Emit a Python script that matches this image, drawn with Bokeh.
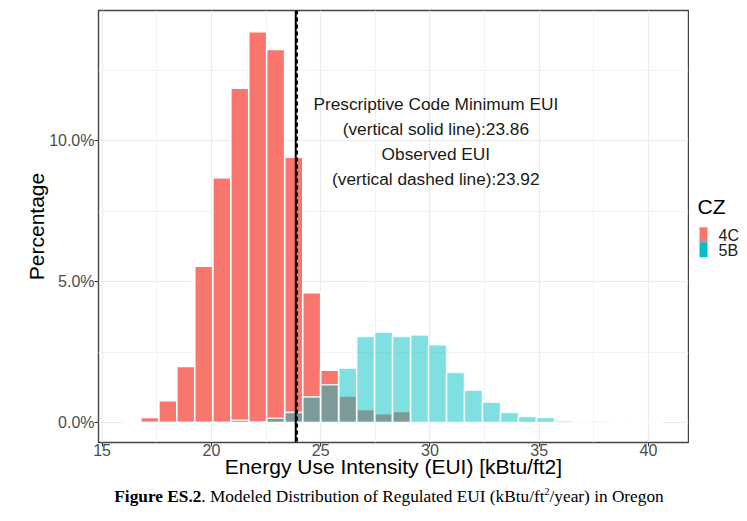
from bokeh.plotting import figure
from bokeh.models import (Span, Label, FixedTicker, Range1d,
                          PrintfTickFormatter, ColumnDataSource, Div)
from bokeh.core.properties import value
from bokeh.layouts import column, row
from bokeh.embed import file_html
from bokeh.resources import INLINE

# ---- data ----
bin_centers = [16.36, 17.18, 18.01, 18.83, 19.65, 20.48, 21.30, 22.12, 22.94, 23.77,
               24.59, 25.41, 26.24, 27.06, 27.88, 28.70, 29.53, 30.35, 31.17, 31.99,
               32.82, 33.64, 34.46, 35.29, 36.11, 36.93, 37.75, 38.58, 39.40, 40.22]
pct_4C = [0.0, 0.18, 0.77, 1.99, 5.55, 8.69, 11.86, 13.87, 13.24, 9.41,
          4.61, 1.86, 0.94, 0.46, 0.31, 0.39, 0.03, 0.02, 0.0, 0.0,
          0.0, 0.0, 0.0, 0.0, 0.0, 0.0, 0.0, 0.0, 0.0, 0.0]
pct_5B = [0.0, 0.0, 0.0, 0.0, 0.0, 0.0, 0.08, 0.02, 0.15, 0.36,
          0.91, 1.34, 1.93, 3.05, 3.20, 3.05, 3.11, 2.76, 1.78, 1.15,
          0.72, 0.36, 0.21, 0.18, 0.06, 0.02, 0.04, 0.0, 0.0, 0.0]
bin_width = 0.8227
code_min_eui = 23.86
observed_eui = 23.92
x_ticks = [15, 20, 25, 30, 35, 40]
y_ticks = [0, 5, 10]
groups = ["4C", "5B"]
legend_title = "CZ"

RED = "#F8766D"
CYAN = "#00BFC4"
SANS = "Liberation Sans"

p = figure(width=689, height=486, output_backend="svg", toolbar_location=None,
           x_range=Range1d(14.835, 41.83), y_range=Range1d(-0.71, 14.62),
           min_border_left=98, min_border_right=1, min_border_top=10, min_border_bottom=44)
p.background_fill_color = "white"
p.border_fill_color = "white"
p.outline_line_color = "#444444"
p.outline_line_width = 1.4

def src(vals):
    return ColumnDataSource(dict(left=[c - bin_width / 2 for c in bin_centers],
                                 right=[c + bin_width / 2 for c in bin_centers],
                                 top=vals, bottom=[0] * len(vals)))

p.quad(left="left", right="right", top="top", bottom="bottom", source=src(pct_4C),
       fill_color=RED, fill_alpha=1.0, line_color="white", line_width=1.6)
p.quad(left="left", right="right", top="top", bottom="bottom", source=src(pct_5B),
       fill_color=CYAN, fill_alpha=0.5, line_color="white", line_alpha=0.8, line_width=1.6)

p.add_layout(Span(location=code_min_eui, dimension="height", line_color="black", line_width=2))
p.add_layout(Span(location=observed_eui, dimension="height", line_color="black", line_width=2,
                  line_dash="4 3"))

ann = ["Prescriptive Code Minimum EUI",
       "(vertical solid line):%.2f" % code_min_eui,
       "Observed EUI",
       "(vertical dashed line):%.2f" % observed_eui]
ann_y = [11.31, 10.42, 9.53, 8.64]
for t, yy in zip(ann, ann_y):
    p.add_layout(Label(x=30.27, y=yy, text=t, text_align="center", text_baseline="middle",
                       text_font=SANS, text_font_size="17.3px", text_color="#1a1a1a"))

# axes
p.xaxis.ticker = FixedTicker(ticks=x_ticks, minor_ticks=[17.5, 22.5, 27.5, 32.5, 37.5])
p.yaxis.ticker = FixedTicker(ticks=y_ticks, minor_ticks=[2.5, 7.5, 12.5])
p.yaxis.formatter = PrintfTickFormatter(format="%.1f%%")
for ax in (p.xaxis, p.yaxis):
    ax.axis_line_color = None
    ax.major_tick_line_color = "#333333"
    ax.major_tick_out = 4
    ax.major_tick_in = 0
    ax.minor_tick_line_color = None
    ax.major_label_text_font = SANS
    ax.major_label_text_font_size = "16px"
    ax.major_label_text_color = "#4D4D4D"
    ax.axis_label_text_font = SANS
    ax.axis_label_text_font_size = "21px"
    ax.axis_label_text_font_style = "normal"
    ax.axis_label_text_color = "black"
p.xaxis.axis_label = "Energy Use Intensity (EUI) [kBtu/ft2]"
p.yaxis.axis_label = "Percentage"
p.xaxis.major_label_standoff = -3
p.yaxis.major_label_standoff = 0
p.xaxis.axis_label_standoff = -4
p.yaxis.axis_label_standoff = -2

for g in (p.xgrid, p.ygrid):
    g.grid_line_color = "#EBEBEB"
    g.grid_line_width = 1.2
    g.minor_grid_line_color = "#F2F2F2"
    g.minor_grid_line_width = 1.0

# legend panel: its frame is aligned with the main frame (top 10, bottom 442),
# so this range makes a unit equal to a page pixel, y downward
lg = figure(width=58, height=486, output_backend="svg", toolbar_location=None,
            x_axis_location=None, y_axis_location=None,
            x_range=Range1d(0, 58), y_range=Range1d(442, 10),
            min_border_left=0, min_border_right=0, min_border_top=10, min_border_bottom=44)
lg.grid.visible = False
lg.outline_line_color = None
lg.background_fill_color = "white"
lg.border_fill_color = "white"
lg.text(x=[8], y=[205.5], text=[legend_title], text_font=value(SANS), text_font_size="21px",
        text_baseline="middle", text_align="left", text_color="black")
lg.quad(left=[10, 10], right=[18, 18], top=[226.7, 241.7], bottom=[241.7, 256.7],
        fill_color=[RED, CYAN], line_color=None)
lg.text(x=[29, 29], y=[234.5, 249.5], text=groups, text_font=value(SANS),
        text_font_size="16px", text_baseline="middle", text_align="left", text_color="#1a1a1a")

caption = Div(text='<div style="width:747px; padding-left:31px; text-align:center; '
                   'font-family:\'Liberation Serif\',serif; font-size:17.3px; '
                   'line-height:22px; margin-top:0px; color:black; white-space:nowrap;">'
                   '<b>Figure ES.2</b>. Modeled Distribution of '
                   'Regulated EUI (kBtu/ft<sup style="font-size:10px; line-height:0">2</sup>/year) in Oregon</div>',
              width=747, height=35, margin=0)

layout = column(row(p, lg, spacing=0), caption, spacing=0)
open("out.html", "w").write(file_html(layout, INLINE))
